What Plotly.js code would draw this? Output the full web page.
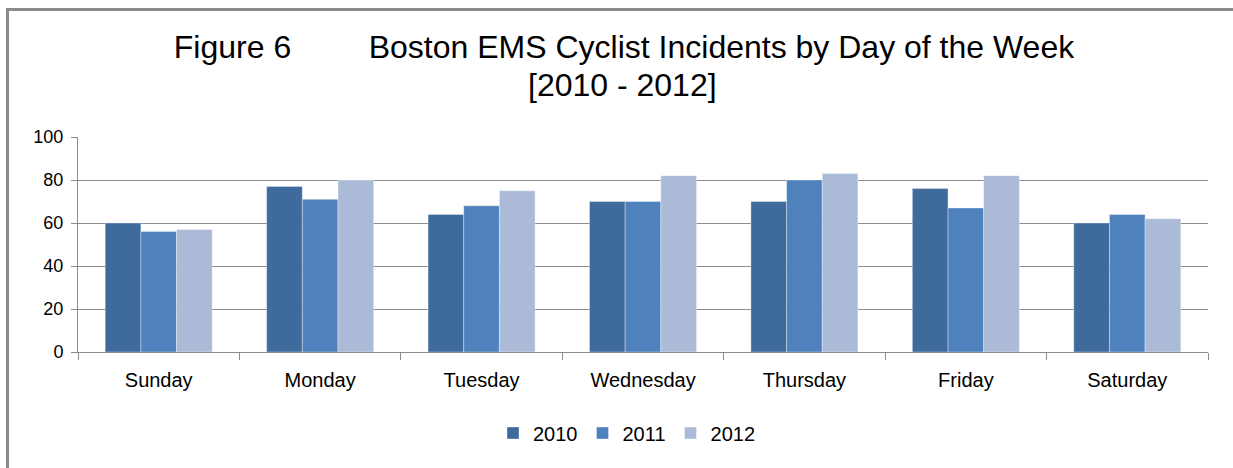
<!DOCTYPE html>
<html>
<head>
<meta charset="utf-8">
<script src="https://cdn.plot.ly/plotly-3.0.1.min.js"></script>
<style>
  html, body { margin: 0; padding: 0; background: #fff; overflow: hidden; }
  #chart { width: 1233px; height: 468px; position: absolute; left: 0; top: 0; }
  #frame { position: absolute; left: 6px; top: 8px; width: 3000px; height: 3000px;
           border-top: 3px solid #8a8a8a; border-left: 3px solid #8a8a8a; pointer-events: none; }
</style>
</head>
<body>
<div id="chart"></div>
<div id="frame"></div>
<script>
const days = ["Sunday", "Monday", "Tuesday", "Wednesday", "Thursday", "Friday", "Saturday"];
const years = ["2010", "2011", "2012"];
const values2010 = [60, 77, 64, 70, 70, 76, 60];
const values2011 = [56, 71, 68, 70, 80, 67, 64];
const values2012 = [57, 80, 75, 82, 83, 82, 62];
const yTicks = [0, 20, 40, 60, 80, 100];
const colors = ["#3F6A9C", "#4F81BD", "#AABAD7"];
const titleLine1 = "Figure 6" + "\u00a0".repeat(8) + "\u2009" + "Boston EMS Cyclist Incidents by Day of the Week";
const titleLine2 = "[2010 - 2012]";

const series = [values2010, values2011, values2012];
const traces = series.map((vals, i) => ({
  type: "bar",
  name: years[i],
  x: days,
  y: vals,
  marker: { color: colors[i], line: { color: "rgba(255,255,255,0.45)", width: 0.8 } },
  hoverinfo: "x+y+name"
}));

const titleFont = { size: 32, color: "#000", family: "Liberation Sans, Arial, sans-serif" };
const layout = {
  width: 1233,
  height: 468,
  margin: { l: 78, r: 25, t: 137, b: 116 },
  paper_bgcolor: "rgba(0,0,0,0)",
  plot_bgcolor: "rgba(0,0,0,0)",
  font: { family: "Liberation Sans, Arial, sans-serif", color: "#000" },
  title: {
    text: titleLine1,
    font: titleFont,
    xref: "container", x: 624 / 1233, xanchor: "center",
    yref: "container", y: 1 - 47 / 468, yanchor: "middle"
  },
  annotations: [{
    text: titleLine2,
    font: titleFont,
    showarrow: false,
    xref: "paper", x: (622 - 78) / 1130, xanchor: "center",
    yref: "paper", y: 1 + (137 - 85) / 215, yanchor: "middle"
  }],
  barmode: "group",
  bargap: 0.337,
  bargroupgap: 0,
  xaxis: {
    type: "category",
    showline: true, linecolor: "#8c8c8c", linewidth: 1,
    ticks: "outside", tickson: "boundaries", ticklen: 7, tickcolor: "#8c8c8c",
    showgrid: false,
    tickfont: { size: 20, color: "#000" },
    ticklabelstandoff: 10,
    fixedrange: true
  },
  yaxis: {
    range: [0, 100],
    tickvals: yTicks,
    ticktext: yTicks.map(String),
    showline: true, linecolor: "#8c8c8c", linewidth: 1,
    ticks: "outside", ticklen: 6, tickcolor: "#8c8c8c",
    showgrid: true, gridcolor: "#8c8c8c", gridwidth: 1,
    zeroline: false,
    tickfont: { size: 18, color: "#000" },
    ticklabelstandoff: 4,
    fixedrange: true
  },
  legend: {
    orientation: "h",
    xref: "container", x: 627 / 1233, xanchor: "center",
    yref: "container", y: 1 - 433 / 468, yanchor: "middle",
    font: { size: 20, color: "#000" },
    itemwidth: 30,
    traceorder: "normal"
  },
  showlegend: true
};

Plotly.newPlot("chart", traces, layout, { displayModeBar: false });
</script>
</body>
</html>
